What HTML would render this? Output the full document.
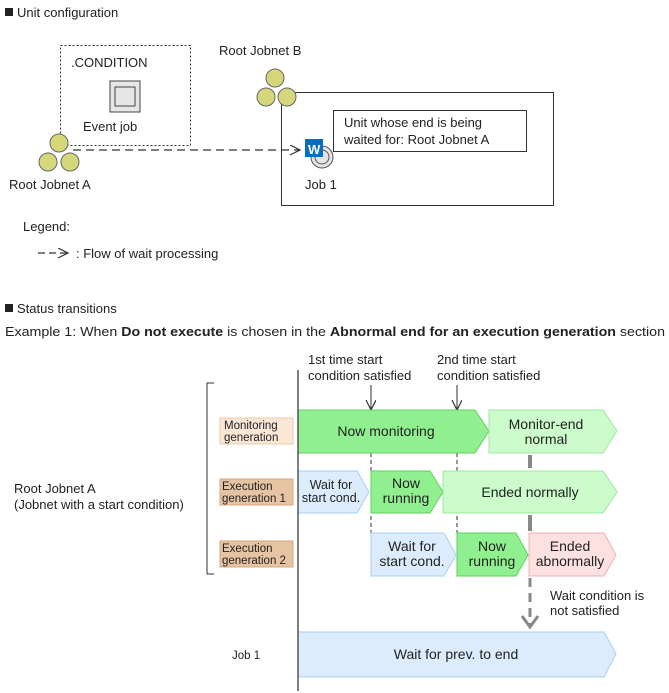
<!DOCTYPE html>
<html><head><meta charset="utf-8"><style>
html,body{margin:0;padding:0;background:#fff}
svg{display:block}
text{font-family:"Liberation Sans",Arial,sans-serif;fill:#222}
</style></head><body>
<svg width="669" height="693" viewBox="0 0 669 693" xmlns="http://www.w3.org/2000/svg">
<defs>
<marker id="oa" markerWidth="12" markerHeight="12" refX="10" refY="5" orient="auto" markerUnits="userSpaceOnUse"><path d="M0,0 L10,5 L0,10" fill="none" stroke="#333" stroke-width="1.2"/></marker>
</defs>
<rect x="5" y="8" width="8" height="8" fill="#222"/>
<text x="17" y="17" font-size="13">Unit configuration</text>
<rect x="60.5" y="45.5" width="130" height="100" fill="none" stroke="#333" stroke-dasharray="2,2"/>
<text x="71" y="67" font-size="13">.CONDITION</text>
<rect x="110" y="81" width="30" height="31" fill="#e6e6e6" stroke="#444"/>
<rect x="115" y="87" width="20" height="19" fill="#e6e6e6" stroke="#444"/>
<text x="83" y="131" font-size="13">Event job</text>
<circle cx="59" cy="143" r="9" fill="#d6d67a" stroke="#666"/>
<circle cx="48" cy="162" r="9" fill="#d6d67a" stroke="#666"/>
<circle cx="70" cy="162" r="9" fill="#d6d67a" stroke="#666"/>
<text x="9" y="189" font-size="13">Root Jobnet A</text>
<text x="219" y="55" font-size="13">Root Jobnet B</text>
<rect x="281.5" y="92.5" width="272" height="113" fill="#fff" stroke="#333"/>
<line x1="73" y1="150" x2="300" y2="150" stroke="#333" stroke-width="1.2" stroke-dasharray="8,5" marker-end="url(#oa)"/>
<circle cx="275" cy="78" r="9" fill="#d6d67a" stroke="#666"/>
<circle cx="266" cy="97" r="9" fill="#d6d67a" stroke="#666"/>
<circle cx="287" cy="97" r="9" fill="#d6d67a" stroke="#666"/>
<rect x="333.5" y="110.5" width="193" height="41" fill="#fff" stroke="#333"/>
<text x="344" y="127" font-size="13">Unit whose end is being</text>
<text x="344" y="144" font-size="13">waited for: Root Jobnet A</text>
<circle cx="322" cy="157" r="11" fill="#e4e4e4" stroke="#555"/>
<circle cx="322" cy="157" r="7" fill="#e4e4e4" stroke="#555"/>
<rect x="305" y="139" width="18" height="18" fill="#0a6ebd"/>
<text x="308" y="154" font-size="13" font-weight="bold" style="fill:#fff">W</text>
<text x="305" y="189" font-size="13">Job 1</text>
<text x="23" y="231" font-size="13">Legend:</text>
<line x1="38" y1="253" x2="68" y2="253" stroke="#333" stroke-width="1.2" stroke-dasharray="7,4" marker-end="url(#oa)"/>
<text x="76" y="258" font-size="13">: Flow of wait processing</text>
<rect x="5" y="304" width="8" height="8" fill="#222"/>
<text x="17" y="313" font-size="13">Status transitions</text>
<text x="5" y="336" font-size="13" textLength="660" lengthAdjust="spacingAndGlyphs">Example 1: When <tspan font-weight="bold">Do not execute</tspan> is chosen in the <tspan font-weight="bold">Abnormal end for an execution generation</tspan> section</text>
<text x="308" y="364" font-size="13">1st time start</text>
<text x="308" y="380" font-size="13">condition satisfied</text>
<text x="437" y="364" font-size="13">2nd time start</text>
<text x="437" y="380" font-size="13">condition satisfied</text>
<line x1="371" y1="385" x2="371" y2="410" stroke="#333" marker-end="url(#oa)"/>
<line x1="457" y1="385" x2="457" y2="410" stroke="#333" marker-end="url(#oa)"/>
<path d="M214,383 H207 V574 H214" fill="none" stroke="#333"/>
<text x="14" y="493" font-size="13">Root Jobnet A</text>
<text x="14" y="509" font-size="13">(Jobnet with a start condition)</text>
<rect x="220" y="418" width="73" height="26" fill="#fbe7d6" stroke="#f0c8a8"/>
<text x="224" y="429" font-size="11.5">Monitoring</text>
<text x="224" y="441" font-size="11.5">generation</text>
<rect x="220" y="479" width="73" height="26" fill="#e6c3a3" stroke="#d4a882"/>
<text x="222" y="490" font-size="11.5">Execution</text>
<text x="222" y="502" font-size="11.5">generation 1</text>
<rect x="220" y="541" width="73" height="26" fill="#e6c3a3" stroke="#d4a882"/>
<text x="222" y="552" font-size="11.5">Execution</text>
<text x="222" y="564" font-size="11.5">generation 2</text>
<line x1="371" y1="453" x2="371" y2="576" stroke="#333" stroke-dasharray="4,3"/>
<line x1="457" y1="453" x2="457" y2="576" stroke="#333" stroke-dasharray="4,3"/>
<polygon points="298,410 475,410 489,431 475,453 298,453" fill="#90f090" stroke="#5fd05f"/>
<text x="386" y="436" font-size="14" text-anchor="middle">Now monitoring</text>
<polygon points="489,410 603,410 617,431 603,453 489,453" fill="#ccfccc" stroke="#9ee89e"/>
<text x="546" y="429" font-size="14" text-anchor="middle">Monitor-end</text>
<text x="546" y="444" font-size="14" text-anchor="middle">normal</text>
<polygon points="298,471 357,471 369,492 357,513 298,513" fill="#dcecfc" stroke="#a8cff0"/>
<text x="331" y="489" font-size="12.5" text-anchor="middle">Wait for</text>
<text x="331" y="502" font-size="12.5" text-anchor="middle">start cond.</text>
<polygon points="371,471 430,471 443,492 430,513 371,513" fill="#90f090" stroke="#5fd05f"/>
<text x="406" y="488" font-size="14" text-anchor="middle">Now</text>
<text x="406" y="503" font-size="14" text-anchor="middle">running</text>
<polygon points="443,471 603,471 617,492 603,513 443,513" fill="#ccfccc" stroke="#9ee89e"/>
<text x="530" y="497" font-size="14" text-anchor="middle">Ended normally</text>
<polygon points="371,533 444,533 456,555 444,576 371,576" fill="#dcecfc" stroke="#a8cff0"/>
<text x="412" y="551" font-size="14" text-anchor="middle">Wait for</text>
<text x="412" y="566" font-size="14" text-anchor="middle">start cond.</text>
<polygon points="457,533 516,533 528,555 516,576 457,576" fill="#90f090" stroke="#5fd05f"/>
<text x="492" y="551" font-size="14" text-anchor="middle">Now</text>
<text x="492" y="566" font-size="14" text-anchor="middle">running</text>
<polygon points="529,533 604,533 616,555 604,576 529,576" fill="#fde0e0" stroke="#f0b0b0"/>
<text x="570" y="551" font-size="14" text-anchor="middle">Ended</text>
<text x="570" y="566" font-size="14" text-anchor="middle">abnormally</text>
<line x1="530" y1="455" x2="530" y2="468" stroke="#888" stroke-width="4"/>
<line x1="530" y1="515" x2="530" y2="531" stroke="#888" stroke-width="4"/>
<line x1="530" y1="578" x2="530" y2="625" stroke="#888" stroke-width="3" stroke-dasharray="9,6"/>
<path d="M522,616 L530,627 L538,616" fill="none" stroke="#888" stroke-width="3"/>
<text x="550" y="600" font-size="13">Wait condition is</text>
<text x="550" y="615" font-size="13">not satisfied</text>
<text x="232" y="659" font-size="11.5">Job 1</text>
<polygon points="298,632 604,632 616,654 604,677 298,677" fill="#dcecfc" stroke="#a8cff0"/>
<text x="456" y="659" font-size="14" text-anchor="middle">Wait for prev. to end</text>
<line x1="298" y1="370" x2="298" y2="691" stroke="#555" stroke-width="1.5"/>
</svg>
</body></html>
